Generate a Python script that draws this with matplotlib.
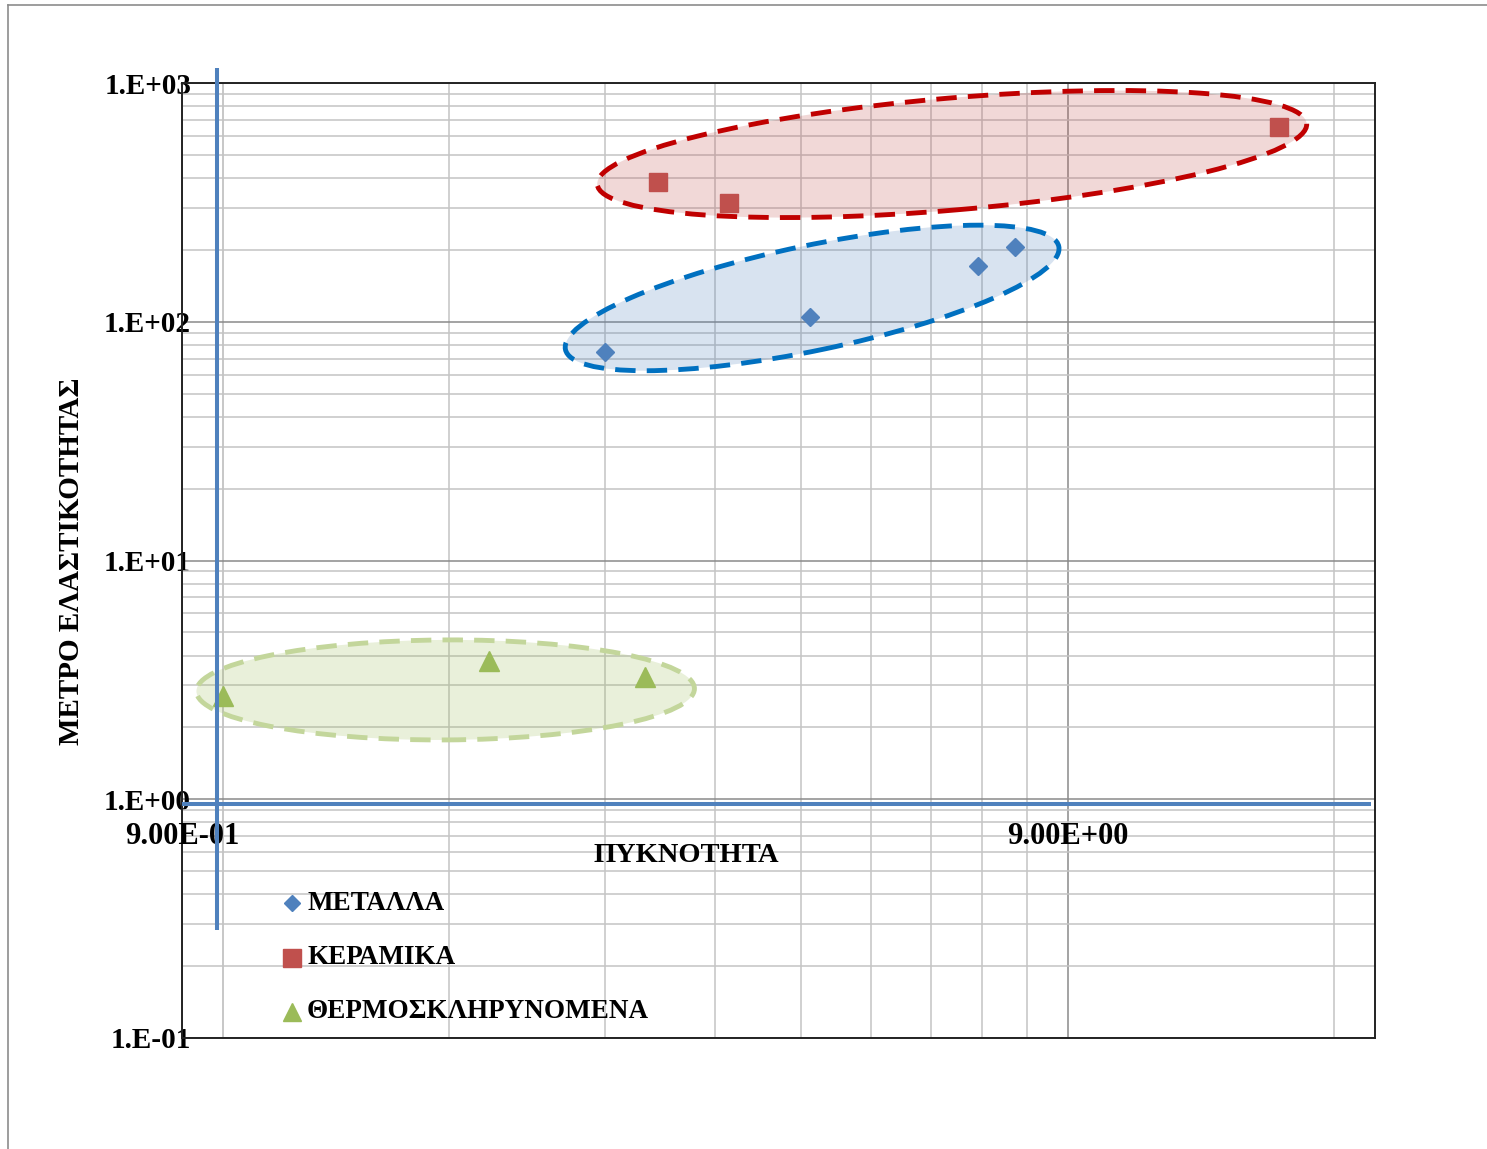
import matplotlib

matplotlib.use("Agg")
import matplotlib.pyplot as plt
from matplotlib import transforms
from matplotlib.lines import Line2D
from matplotlib.patches import Ellipse
from matplotlib.ticker import FixedLocator, NullFormatter

plt.rcParams["font.family"] = ["Liberation Serif", "DejaVu Serif"]
plt.rcParams["font.weight"] = "bold"

# density (x) and elastic modulus (y) per material family
metals_density = [2.7, 4.6, 7.13, 7.85]
metals_modulus = [75, 105, 172, 206]
ceramics_density = [3.1, 3.73, 15.6]
ceramics_modulus = [385, 315, 657]
thermosets_density = [1.0, 2.0, 3.0]
thermosets_modulus = [2.7, 3.8, 3.25]

series_names = ["ΜΕΤΑΛΛΑ", "ΚΕΡΑΜΙΚΑ", "ΘΕΡΜΟΣΚΛΗΡΥΝΟΜΕΝΑ"]
series_colors = ["#4F81BD", "#C0504D", "#9BBB59"]
series_markers = ["D", "s", "^"]

y_ticks = [0.1, 1, 10, 100, 1000]
y_tick_labels = ["1.E-01", "1.E+00", "1.E+01", "1.E+02", "1.E+03"]
x_ticks = [0.9, 9]
x_tick_labels = ["9.00E-01", "9.00E+00"]

x_title = "ΠΥΚΝΟΤΗΤΑ"
y_title = "ΜΕΤΡΟ ΕΛΑΣΤΙΚΟΤΗΤΑΣ"

# group outlines: centre in data units, size in pixels, tilt in degrees
groups = [
    dict(cx=6.66, cy=504, w=712, h=112, angle=4.9, face="#C0504D", edge="#C00000"),
    dict(cx=4.63, cy=125.8, w=504, h=105, angle=11.8, face="#4F81BD", edge="#0070C0"),
    dict(cx=1.785, cy=2.87, w=498, h=100, angle=0.3, face="#9BBB59", edge="#C3D69B"),
]

W, H = 1487, 1149
fig = plt.figure(figsize=(W / 100, H / 100), dpi=100)
ax = fig.add_axes([182 / W, 1 - 1038 / H, (1375 - 182) / W, (1038 - 83) / H])

ax.set_xscale("log")
ax.set_yscale("log")

# Excel-style grid: decades anchored on 0.9 along x, plain decades along y
x_minor = [0.9 * k for k in range(2, 10)] + [18]
y_minor = [m * 10.0 ** e for e in range(-1, 3) for m in range(2, 10)]
ax.xaxis.set_major_locator(FixedLocator(x_ticks))
ax.xaxis.set_minor_locator(FixedLocator(x_minor))
ax.yaxis.set_major_locator(FixedLocator(y_ticks))
ax.yaxis.set_minor_locator(FixedLocator(y_minor))
ax.xaxis.set_major_formatter(NullFormatter())
ax.xaxis.set_minor_formatter(NullFormatter())
ax.yaxis.set_minor_formatter(NullFormatter())
ax.set_yticklabels(y_tick_labels)
ax.tick_params(which="both", length=0)
ax.tick_params(axis="y", pad=-6.5, labelsize=21)

ax.grid(which="major", color="#8A8A8A", lw=1.1, zorder=0)
ax.grid(which="minor", color="#C4C4C4", lw=1.1, zorder=0)
ax.set_axisbelow(True)
ax.axvline(1.0, color="#B8B8B8", lw=1.1, zorder=0.5)
for sp in ax.spines.values():
    sp.set_color("#222222")
    sp.set_linewidth(1.4)

ax.set_xlim(0.9, 20)
ax.set_ylim(0.1, 1000)

# scatter series
data = [
    (metals_density, metals_modulus, 9.0),
    (ceramics_density, ceramics_modulus, 13.5),
    (thermosets_density, thermosets_modulus, 14.5),
]
for (xs, ys, ms), color, mk in zip(data, series_colors, series_markers):
    ax.plot(xs, ys, ls="none", marker=mk, ms=ms, color=color, mec=color, zorder=3)

# dashed group ellipses, sized in pixels around a data-space centre
for g in groups:
    trans = fig.dpi_scale_trans + transforms.ScaledTranslation(g["cx"], g["cy"], ax.transData)
    ax.add_patch(Ellipse((0, 0), g["w"] / fig.dpi, g["h"] / fig.dpi, angle=g["angle"],
                         transform=trans, facecolor=g["face"], alpha=0.22, lw=0, zorder=4))
    ax.add_patch(Ellipse((0, 0), g["w"] / fig.dpi, g["h"] / fig.dpi, angle=g["angle"],
                         transform=trans, facecolor="none", edgecolor=g["edge"], lw=3.5,
                         ls=(0, (4.2, 2.3)), zorder=5))

# hand-drawn blue axes
ax.plot([0.987, 0.987], [0.283, 1160], color="#4F81BD", lw=2.9, clip_on=False, zorder=6,
        solid_capstyle="butt")
ax.plot([0.9, 19.8], [0.955, 0.955], color="#4F81BD", lw=2.9, clip_on=False, zorder=6,
        solid_capstyle="butt")

# x tick labels sit just under the y = 1 line
for v, lab in zip(x_ticks, x_tick_labels):
    ax.annotate(lab, xy=(v, 1.0), xytext=(0, -26.6), textcoords="offset points",
                ha="center", va="center", fontsize=22, annotation_clip=False)

fig.text(686 / W, 1 - 855 / H, x_title, ha="center", va="center", fontsize=20.5)
fig.text(72 / W, 1 - 561 / H, y_title, ha="center", va="center", rotation=90, fontsize=21)

# legend entries
legend_rows = [903, 958, 1012]
legend_ms = [8.5, 12.5, 12.5]
for row, name, color, mk, ms in zip(legend_rows, series_names, series_colors,
                                    series_markers, legend_ms):
    fig.add_artist(Line2D([292 / W], [1 - row / H], transform=fig.transFigure, ls="none",
                          marker=mk, ms=ms, color=color, mec=color))
    fig.text(307 / W, 1 - row / H, name, ha="left", va="center", fontsize=19.5)

# thin page frame
fig.add_artist(Line2D([8 / W, 8 / W], [0, 1 - 5 / H], transform=fig.transFigure,
                      color="#8C8C8C", lw=1.2))
fig.add_artist(Line2D([8 / W, 1], [1 - 5 / H, 1 - 5 / H], transform=fig.transFigure,
                      color="#8C8C8C", lw=1.2))

fig.savefig("out.png", dpi=100)
